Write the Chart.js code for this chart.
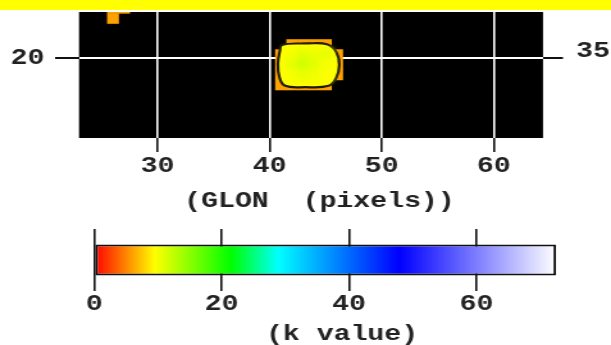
<!DOCTYPE html>
<html>
<head>
<meta charset="utf-8">
<script src="https://cdn.jsdelivr.net/npm/chart.js@4/dist/chart.umd.min.js"></script>
<style>
  html, body { margin: 0; padding: 0; background: #fff; }
  body { width: 611px; height: 345px; position: relative; overflow: hidden; }
  #band { position: absolute; left: 0; top: 0; width: 611px; height: 10px; background: #ffff00; }
  #mapWrap { position: absolute; left: 0; top: 0; }
  #barWrap { position: absolute; left: 0; top: 215px; }
  /* the plot is rendered narrow and widened by the page, like the wide typewriter lettering */
  canvas { width: 611px; }
</style>
</head>
<body>
<div id="band"></div>
<div id="mapWrap"><canvas id="mapCanvas" width="477" height="215" style="width:611px;height:215px"></canvas></div>
<div id="barWrap"><canvas id="barCanvas" width="477" height="130" style="width:611px;height:130px"></canvas></div>
<script>
// map window, in image pixels
const GLON_RANGE = [23.0, 64.4];
const GLAT_RANGE = [12.87, 24.15];
const GLON_TICKS = [30, 40, 50, 60];
const LEFT_TICKS = [20];
const RIGHT_TICKS = [35];
const RIGHT_OFFSET = 15;

// k value per image pixel (column, row centre, value)
const CELL_H = 0.905;
const CELL_X = [26, 27, 26,
  42, 43, 44, 45,
  41, 42, 43, 44, 45, 46,
  41, 42, 43, 44, 45, 46,
  41, 42, 43, 44, 45, 46,
  41, 42, 43, 44, 45];
const CELL_Y = [24.5, 24.5, 23.59,
  21.26, 21.26, 21.26, 21.26,
  20.36, 20.36, 20.36, 20.36, 20.36, 20.36,
  19.45, 19.45, 19.45, 19.45, 19.45, 19.45,
  18.54, 18.54, 18.54, 18.54, 18.54, 18.54,
  17.64, 17.64, 17.64, 17.64, 17.64];
const CELL_K = [6, 6, 6,
  6, 6, 6, 6,
  6, 6, 6, 6, 6, 6,
  6, 6, 6, 6, 6, 6,
  6, 6, 6, 6, 6, 6,
  6, 6, 6, 6, 6];

// brighter pixels inside the contour
const CORE_X = [42, 43, 44, 45, 42, 43, 44, 45, 42, 43, 44, 45];
const CORE_Y = [20.36, 20.36, 20.36, 20.36, 19.45, 19.45, 19.45, 19.45, 18.54, 18.54, 18.54, 18.54];
const CORE_K = [10.2, 11.2, 10.6, 11.0, 10.8, 12.4, 11.2, 9.9, 10.0, 10.8, 10.4, 9.7];

// contour around the source
const CONTOUR_K = 9.5;
const CONTOUR_X = [43.19, 45.12, 45.93, 46.22, 45.93, 45.27, 43.19, 41.40, 40.87, 40.75, 40.93, 41.11, 43.19];
const CONTOUR_Y = [21.35, 21.26, 20.60, 19.41, 18.22, 17.54, 17.42, 17.54, 18.37, 19.56, 20.69, 21.20, 21.35];

// colour table
const CMAP_K = [0, 9.5, 21.5, 28.9, 47.9, 72.5];
const CMAP_RGB = [[255, 0, 0], [255, 255, 0], [0, 255, 0], [0, 255, 255], [0, 0, 255], [255, 255, 255]];
const KBAR_MAX = 72.5;
const KBAR_TICKS = [0, 20, 40, 60];

const FONT = { family: '"Liberation Mono", "Courier New", monospace', size: 22, weight: 'bold', lineHeight: 1 };
const INK = '#222';

const rgb = c => `rgb(${c.map(v => Math.round(v)).join(',')})`;

function kColor(k) {
  if (k <= CMAP_K[0]) return rgb(CMAP_RGB[0]);
  for (let i = 1; i < CMAP_K.length; i++) {
    if (k <= CMAP_K[i]) {
      const t = (k - CMAP_K[i - 1]) / (CMAP_K[i] - CMAP_K[i - 1]);
      const a = CMAP_RGB[i - 1], b = CMAP_RGB[i];
      return rgb(a.map((v, j) => v + (b[j] - v) * t));
    }
  }
  return rgb(CMAP_RGB[CMAP_RGB.length - 1]);
}

function kGradient(chart) {
  const { ctx, chartArea, scales } = chart;
  if (!chartArea) return kColor(KBAR_MAX / 2);
  const x0 = scales.x.getPixelForValue(0);
  const x1 = scales.x.getPixelForValue(KBAR_MAX);
  const g = ctx.createLinearGradient(x0, 0, x1, 0);
  CMAP_K.forEach((k, i) => g.addColorStop(k / KBAR_MAX, rgb(CMAP_RGB[i])));
  return g;
}

const fixedTicks = list => s => { s.ticks = list.map(value => ({ value })); };

function drawCells(chart, xs, ys, ks) {
  const { ctx, chartArea: a, scales: { x, y } } = chart;
  ctx.save();
  ctx.beginPath();
  ctx.rect(a.left, a.top, a.right - a.left, a.bottom - a.top);
  ctx.clip();
  xs.forEach((cx, i) => {
    const l = x.getPixelForValue(cx - 0.5), r = x.getPixelForValue(cx + 0.5);
    const t = y.getPixelForValue(ys[i] + CELL_H / 2), b = y.getPixelForValue(ys[i] - CELL_H / 2);
    ctx.fillStyle = kColor(ks[i]);
    ctx.fillRect(l, t, r - l + 0.5, b - t + 0.5);
  });
  ctx.restore();
}

const plotBackground = {
  id: 'plotBackground',
  beforeDraw(chart) {
    const { ctx, chartArea: a } = chart;
    ctx.save();
    ctx.fillStyle = '#000';
    ctx.fillRect(a.left, a.top, a.right - a.left, a.bottom - a.top);
    ctx.restore();
  },
};

const pixelCells = {
  id: 'pixelCells',
  beforeDatasetsDraw(chart) { drawCells(chart, CELL_X, CELL_Y, CELL_K); },
  afterDatasetsDraw(chart) {
    chart.ctx.save();
    chart.ctx.filter = 'blur(3px)';
    drawCells(chart, CORE_X, CORE_Y, CORE_K);
    chart.ctx.restore();
  },
};

new Chart(document.getElementById('mapCanvas'), {
  type: 'scatter',
  data: {
    datasets: [{
      data: CONTOUR_X.map((x, i) => ({ x, y: CONTOUR_Y[i] })),
      showLine: true,
      tension: 0.4,
      fill: 'shape',
      backgroundColor: kColor(CONTOUR_K),
      borderColor: '#1e1a00',
      borderWidth: 2.2,
      pointRadius: 0,
    }],
  },
  options: {
    responsive: false,
    animation: false,
    layout: { padding: { top: 12, left: 0, right: 0, bottom: 0 } },
    plugins: { legend: { display: false }, tooltip: { enabled: false } },
    scales: {
      x: {
        type: 'linear', position: 'bottom', z: 1,
        min: GLON_RANGE[0], max: GLON_RANGE[1],
        afterBuildTicks: fixedTicks(GLON_TICKS),
        afterFit: s => { s.height = 77; },
        grid: { color: '#fff', lineWidth: 1.6, tickColor: '#111', tickWidth: 1.6, tickLength: 14 },
        border: { display: false },
        ticks: { color: INK, font: FONT, padding: 3.5, maxRotation: 0 },
        title: { display: true, text: ' (GLON  (pixels))', color: INK, font: FONT, padding: { top: 0, bottom: 3 } },
      },
      y: {
        type: 'linear', position: 'left', z: 1,
        min: GLAT_RANGE[0], max: GLAT_RANGE[1],
        afterBuildTicks: fixedTicks(LEFT_TICKS),
        afterFit: s => { s.width = 61.7; s.paddingTop = 0; s.paddingBottom = 0; },
        grid: { color: '#fff', lineWidth: 2, tickColor: '#111', tickWidth: 2, tickLength: 18.7 },
        border: { display: false },
        ticks: { color: INK, font: FONT, padding: 8.3 },
      },
      y2: {
        type: 'linear', position: 'right', z: 1,
        min: GLAT_RANGE[0] + RIGHT_OFFSET, max: GLAT_RANGE[1] + RIGHT_OFFSET,
        afterBuildTicks: fixedTicks(RIGHT_TICKS),
        afterFit: s => { s.width = 53.1; s.paddingTop = 0; s.paddingBottom = 0; },
        grid: { drawOnChartArea: false, color: '#111', lineWidth: 2, tickLength: 15.6 },
        border: { display: false },
        ticks: { color: INK, font: FONT, padding: 10.2, labelOffset: -7 },
      },
    },
  },
  plugins: [plotBackground, pixelCells],
});

new Chart(document.getElementById('barCanvas'), {
  type: 'bar',
  data: {
    labels: ['k'],
    datasets: [{
      data: [[0, KBAR_MAX]],
      backgroundColor: ctx => kGradient(ctx.chart),
      borderColor: '#111',
      borderWidth: 2,
      borderSkipped: false,
      barPercentage: 0.5,
      categoryPercentage: 1,
    }],
  },
  options: {
    indexAxis: 'y',
    responsive: false,
    animation: false,
    layout: { padding: { top: 14, left: 73.6, right: 42.9, bottom: 0 } },
    plugins: { legend: { display: false }, tooltip: { enabled: false } },
    scales: {
      x: {
        type: 'linear', position: 'bottom',
        min: 0, max: KBAR_MAX,
        afterBuildTicks: fixedTicks(KBAR_TICKS),
        afterFit: s => { s.height = 54; },
        grid: { color: '#111', lineWidth: 1.6, drawTicks: false },
        border: { display: false },
        ticks: { color: INK, font: FONT, padding: 2, maxRotation: 0 },
        title: { display: true, text: '  (k value)', color: INK, font: FONT, padding: { top: 0, bottom: 0 } },
      },
      y: { display: false },
    },
  },
});
</script>
</body>
</html>
